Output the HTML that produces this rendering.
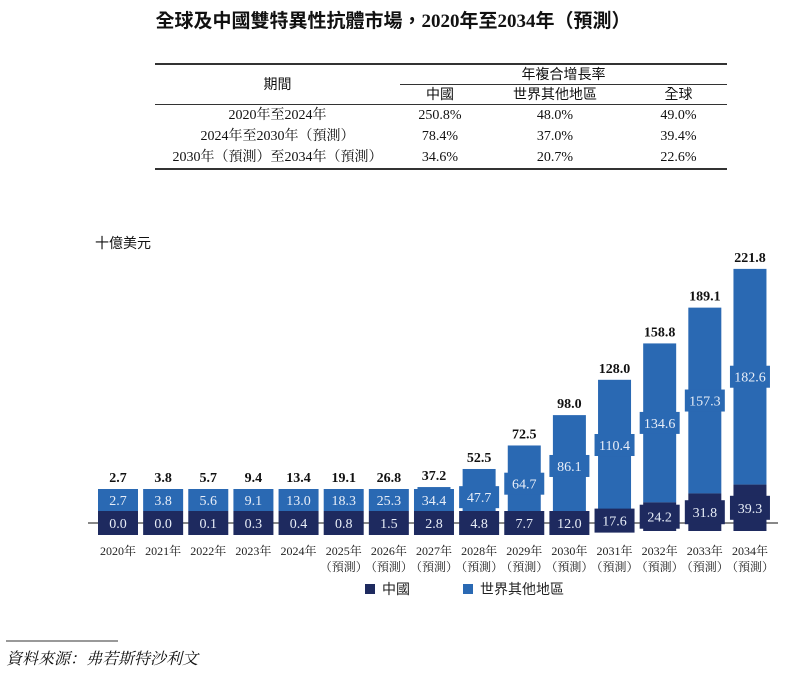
<!DOCTYPE html>
<html><head><meta charset="utf-8">
<style>
body{margin:0;background:#fff;width:786px;height:675px;overflow:hidden;font-family:"Liberation Serif","Noto Serif CJK SC",serif;}
.title{position:absolute;left:0;width:786px;top:6px;text-align:center;font-size:19px;font-weight:bold;font-family:"Liberation Serif","Noto Sans CJK TC",sans-serif;color:#111;}
table{position:absolute;left:155px;top:63px;width:572px;border-collapse:collapse;font-size:14px;color:#111;}
td{padding:0;height:19px;text-align:center;line-height:19px}
.d td{height:21px;line-height:21px}
.h{font-family:"Liberation Sans","Noto Sans CJK TC",sans-serif;}
</style></head><body>
<div class="title">全球及中國雙特異性抗體市場，2020年至2034年（預測）</div>
<table>
<tr style="border-top:2px solid #333"><td rowspan="2" class="h" style="width:245px;border-bottom:1.5px solid #333">期間</td><td colspan="3" class="h" style="border-bottom:1px solid #333">年複合增長率</td></tr>
<tr style="border-bottom:1.5px solid #333"><td class="h" style="width:80px">中國</td><td class="h" style="width:150px">世界其他地區</td><td class="h">全球</td></tr>
<tr class="d"><td>2020年至2024年</td><td>250.8%</td><td>48.0%</td><td>49.0%</td></tr>
<tr class="d"><td>2024年至2030年（預測）</td><td>78.4%</td><td>37.0%</td><td>39.4%</td></tr>
<tr class="d" style="border-bottom:2px solid #333"><td>2030年（預測）至2034年（預測）</td><td>34.6%</td><td>20.7%</td><td>22.6%</td></tr>
</table>
<svg id="c" width="786" height="675" style="position:absolute;left:0;top:0"></svg>
<script>
const years=["2020年","2021年","2022年","2023年","2024年","2025年","2026年","2027年","2028年","2029年","2030年","2031年","2032年","2033年","2034年"];
const china=[0.0,0.0,0.1,0.3,0.4,0.8,1.5,2.8,4.8,7.7,12.0,17.6,24.2,31.8,39.3];
const rest=[2.7,3.8,5.6,9.1,13.0,18.3,25.3,34.4,47.7,64.7,86.1,110.4,134.6,157.3,182.6];
const totals=[2.7,3.8,5.7,9.4,13.4,19.1,26.8,37.2,52.5,72.5,98.0,128.0,158.8,189.1,221.8];
const forecastFrom=5;
const NS="http://www.w3.org/2000/svg",svg=document.getElementById('c');
const base=531,k=262/221.8;
const x=i=>118+i*45.14, y=v=>base-v*k;
const NAVY="#1e2a5f",BLUE="#2a69b3";
function el(t,a,p){const e=document.createElementNS(NS,t);for(const q in a)e.setAttribute(q,a[q]);(p||svg).appendChild(e);return e;}
function txt(s,a){const e=el('text',a);e.textContent=s;return e;}
let t=txt("十億美元",{x:95,y:248,'font-size':14,fill:'#111','font-family':'"Liberation Sans","Noto Sans CJK TC",sans-serif'});

let ax=el('line',{x1:88,x2:778,y1:523,y2:523,stroke:'#888','stroke-width':2});

years.forEach((yr,i)=>{
 const cx=x(i),w=33;
 const cTop=y(china[i]),bTop=y(china[i]+rest[i]);
 let r=el('rect',{x:cx-w/2,y:bTop,width:w,height:cTop-bTop,fill:BLUE});
 
 r=el('rect',{x:cx-w/2,y:cTop,width:w,height:base-cTop,fill:NAVY});
 
 const cc=Math.min((cTop+base)/2,base-8);
 const bc=Math.min((bTop+cTop)/2,cc-23);
 r=el('rect',{x:cx-20,y:bc-11,width:40,height:22,fill:BLUE});
 
 r=el('rect',{x:cx-20,y:cc-12,width:40,height:24,fill:NAVY});
 
 t=txt(rest[i].toFixed(1),{x:cx,y:bc+5,'text-anchor':'middle','font-size':14,fill:'#e8eef8'});
 
 t=txt(china[i].toFixed(1),{x:cx,y:cc+5,'text-anchor':'middle','font-size':14,fill:'#e8eef8'});
 
 const top=Math.min(bTop,bc-11);
 t=txt(totals[i].toFixed(1),{x:cx,y:top-7,'text-anchor':'middle','font-size':14,'font-weight':'bold',fill:'#111'});
 
 t=txt(yr,{x:cx,y:555,'text-anchor':'middle','font-size':12,fill:'#222'});
 
 if(i>=forecastFrom){t=txt("（預測）",{x:cx,y:571,'text-anchor':'middle','font-size':12,fill:'#222'});
 }
});
let g=el('g',{});
el('rect',{x:365,y:584,width:10,height:10,fill:NAVY},g);
let lt=txt("中國",{x:382,y:594,'font-size':14,fill:'#222','font-family':'"Liberation Sans","Noto Sans CJK TC",sans-serif'});g.appendChild(lt);
g=el('g',{});
el('rect',{x:463,y:584,width:10,height:10,fill:BLUE},g);
lt=txt("世界其他地區",{x:480,y:594,'font-size':14,fill:'#222','font-family':'"Liberation Sans","Noto Sans CJK TC",sans-serif'});g.appendChild(lt);
let ln=el('line',{x1:6,x2:118,y1:641,y2:641,stroke:'#333','stroke-width':1});

t=txt("資料來源：弗若斯特沙利文",{x:6,y:664,'font-size':16,'font-style':'italic',fill:'#111'});

</script>
</body></html>
